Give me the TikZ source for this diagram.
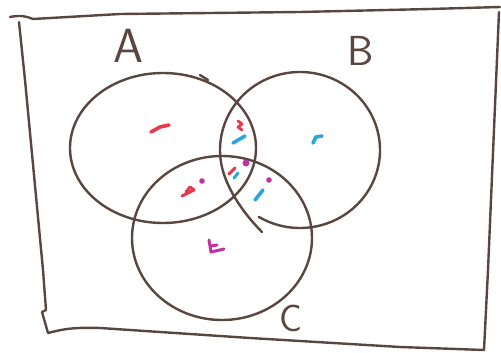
\documentclass[tikz,border=0pt]{standalone}
\usetikzlibrary{shapes.geometric}
\begin{document}
\begin{tikzpicture}[x=1pt,y=-1pt,
  pen/.style={draw=ink,line width=2.4pt,line cap=round,line join=round},
  dab/.style={line width=3.6pt,line cap=round,line join=round},
  lab/.style={text=ink,font=\sffamily\fontsize{48}{48}\selectfont,inner sep=0pt}]
\definecolor{ink}{HTML}{5A4641}
\definecolor{mred}{HTML}{E8384C}
\definecolor{mcyan}{HTML}{2AA6DA}
\definecolor{mmag}{HTML}{C4309C}
\useasboundingbox[fill=white] (0,0) rectangle (501,353);
% frame
\draw[pen] (10,17) .. controls (20,15) and (26,16) .. (33,19) -- (120,14) -- (300,12) -- (430,9) -- (500,7);
\draw[pen] (19,22) -- (25,80) -- (43,270) -- (46,310) -- (42,312) -- (48,333)
  .. controls (60,330) and (70,327) .. (100,328) -- (250,338) -- (400,347) -- (484,350);
\draw[pen] (499,12) -- (488,270) -- (484,350);
% circles
\node[pen,ellipse,draw,minimum width=186pt,minimum height=150pt,inner sep=0pt] (A) at (163,148) {};
\draw[pen] (200,75) -- (208,80);
\coordinate (B) at (300,150);
\draw[pen] ([shift={(B)}]121:80 and 78) arc[start angle=121, end angle=-195, x radius=80, y radius=78]
  .. controls (228.7,192) and (245,215) .. (262,232);
\node[pen,ellipse,draw,minimum width=180pt,minimum height=164pt,inner sep=0pt] (C) at (222,238) {};
% labels
\node[lab] (la) at (128,46) {A};
\node[lab,font=\sffamily\fontsize{42}{42}\selectfont] (lb) at (361,51) {B};
\node[lab,font=\sffamily\fontsize{38}{38}\selectfont] (lc) at (291,318) {C};
% marks
\draw[dab,mred] (151,132) -- (160,127) -- (169,125);
\draw[dab,mcyan] (313,143) -- (316,137) -- (322,136);
\draw[dab,mred,line width=2.8pt] (238,121) -- (242,124) -- (238,127) -- (242,130);
\draw[dab,mcyan] (233,143) -- (245,136);
\fill[mmag] (246,163) circle (3.5pt);
\draw[dab,mred,line width=3pt] (229,174) -- (235,168);
\draw[dab,mcyan,line width=3pt] (234,178) -- (238,173);
\fill[mmag] (269,180) circle (2.8pt);
\draw[dab,mcyan] (255,200) -- (263,190);
\fill[mmag] (202,181) circle (2.8pt);
\draw[dab,mred,line width=3pt] (182,196) -- (194,190) -- (190,187) -- (186,192);
\draw[dab,mmag,line width=3pt] (209,240) -- (211,252) -- (224,249) (211,246) -- (217,245);
\end{tikzpicture}
\end{document}
